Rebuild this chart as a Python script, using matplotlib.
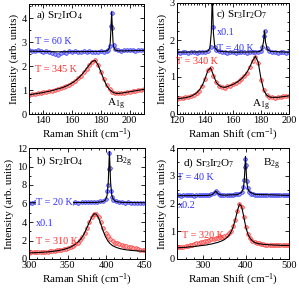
import matplotlib
matplotlib.use("Agg")
from matplotlib import pyplot as plt
from matplotlib.ticker import MultipleLocator

plt.rcParams['font.family'] = 'Liberation Serif'
plt.rcParams['mathtext.fontset'] = 'custom'
plt.rcParams['mathtext.rm'] = 'Liberation Serif'
plt.rcParams['mathtext.it'] = 'Liberation Serif:italic'
plt.rcParams['font.size'] = 8

BLUE = '#2f2fff'
RED = '#ff2f2f'
FS = 7.3  # annotation font size

# ---- a) Sr2IrO4, A1g ----
a_x = [130, 132, 134, 136, 138, 140, 142, 144, 146, 148, 150, 152, 154, 156, 158, 160, 162, 164, 166, 168,
       170, 172, 174, 176, 178, 180, 182, 184, 186, 188, 190, 192, 194, 196, 198, 200, 202, 204, 206, 208, 210]
a_red = [0.79, 0.83, 0.84, 0.87, 0.89, 0.92, 0.92, 0.97, 0.98, 1.02, 1.04, 1.10, 1.12, 1.18, 1.23, 1.31, 1.37, 1.49, 1.59, 1.76,
         1.88, 2.06, 2.18, 2.24, 2.04, 1.76, 1.47, 1.20, 1.03, 0.92, 0.87, 0.86, 0.89, 0.88, 0.93, 0.94, 0.98, 0.97, 1.01, 1.02, 1.04]
a_red_fit = [0.80, 0.82, 0.84, 0.86, 0.88, 0.90, 0.93, 0.95, 0.98, 1.01, 1.05, 1.08, 1.12, 1.17, 1.23, 1.30, 1.38, 1.48, 1.60, 1.74,
             1.90, 2.06, 2.20, 2.24, 2.06, 1.76, 1.45, 1.19, 1.02, 0.92, 0.87, 0.86, 0.87, 0.89, 0.91, 0.93, 0.95, 0.97, 0.99, 1.01, 1.03]
a_blue_x = [130, 132, 134, 136, 138, 140, 142, 144, 146, 148, 150, 152, 154, 156, 158, 160, 162, 164, 166, 168,
            170, 172, 174, 176, 178, 180, 182, 184, 185, 186, 187, 187.5, 188, 189, 190, 192, 194, 196, 198, 200,
            202, 204, 206, 208, 210]
a_blue = [2.66, 2.64, 2.62, 2.68, 2.63, 2.60, 2.62, 2.58, 2.55, 2.50, 2.47, 2.55, 2.60, 2.57, 2.62, 2.60, 2.63, 2.59, 2.61, 2.64,
          2.60, 2.62, 2.58, 2.60, 2.61, 2.62, 2.60, 2.63, 2.66, 2.85, 3.70, 4.22, 3.60, 2.90, 2.70, 2.66, 2.64, 2.66, 2.67, 2.66,
          2.68, 2.65, 2.67, 2.68, 2.66]
a_blue_fit_x = [130, 150, 170, 182, 184, 185, 186, 186.5, 187, 187.5, 188, 188.5, 189, 190, 192, 196, 210]
a_blue_fit = [2.63, 2.60, 2.61, 2.62, 2.64, 2.67, 2.78, 2.98, 3.55, 4.28, 3.55, 2.98, 2.78, 2.68, 2.64, 2.64, 2.66]

# ---- c) Sr3Ir2O7, A1g ----
c_x = [120, 122, 124, 126, 128, 130, 132, 134, 136, 138, 140, 142, 144, 146, 148, 150, 152, 154, 156, 158,
       160, 162, 164, 166, 168, 170, 172, 174, 176, 178, 180, 182, 184, 186, 188, 190, 192, 194, 196, 198, 200]
c_red = [0.40, 0.43, 0.42, 0.46, 0.45, 0.50, 0.51, 0.58, 0.63, 0.77, 0.94, 1.19, 1.25, 1.03, 0.86, 0.75, 0.73, 0.71, 0.75, 0.76,
         0.81, 0.83, 0.90, 0.94, 1.04, 1.12, 1.28, 1.44, 1.55, 1.38, 0.93, 0.64, 0.51, 0.45, 0.45, 0.43, 0.46, 0.45, 0.49, 0.48, 0.50]
c_red_fit = [0.41, 0.42, 0.43, 0.44, 0.46, 0.48, 0.52, 0.57, 0.65, 0.77, 0.95, 1.17, 1.25, 1.05, 0.86, 0.77, 0.73, 0.72, 0.74, 0.77,
             0.80, 0.84, 0.89, 0.95, 1.03, 1.13, 1.27, 1.44, 1.56, 1.40, 0.95, 0.64, 0.51, 0.46, 0.45, 0.45, 0.45, 0.46, 0.47, 0.48, 0.49]
c_blue_x = [120, 122, 124, 126, 128, 130, 132, 134, 136, 138, 140, 142, 144, 145, 146, 147, 148, 150, 152, 154,
            156, 158, 160, 162, 164, 166, 168, 170, 172, 174, 176, 178, 180, 181, 182, 183, 184, 186, 188, 190,
            192, 194, 196, 198, 200]
c_blue = [1.67, 1.66, 1.68, 1.67, 1.66, 1.67, 1.68, 1.66, 1.67, 1.68, 1.68, 1.70, 1.80, 3.10, 2.35, 1.82, 1.72, 1.69, 1.67, 1.68,
          1.66, 1.67, 1.68, 1.66, 1.67, 1.68, 1.67, 1.66, 1.68, 1.67, 1.67, 1.68, 1.71, 1.80, 2.10, 2.24, 1.78, 1.70, 1.68, 1.67,
          1.66, 1.67, 1.68, 1.66, 1.67]
c_blue_fit_x = [120, 140, 142, 143.5, 144.5, 145.2, 146, 147, 149, 160, 178, 180.5, 181.8, 182.5, 183.2, 184.5, 187, 200]
c_blue_fit = [1.67, 1.68, 1.70, 1.78, 2.20, 3.20, 2.20, 1.80, 1.70, 1.67, 1.68, 1.72, 1.95, 2.25, 1.95, 1.74, 1.69, 1.67]

# ---- b) Sr2IrO4, B2g ----
b_x = [300, 303, 306, 309, 312, 315, 318, 321, 324, 327, 330, 333, 336, 339, 342, 345, 348, 351, 354, 357,
       360, 363, 366, 369, 372, 375, 378, 381, 384, 387, 390, 393, 396, 399, 402, 405, 408, 411, 414, 417,
       420, 423, 426, 429, 432, 435, 438, 441, 444, 447, 450]
b_red = [0.70, 0.72, 0.71, 0.74, 0.75, 0.76, 0.78, 0.79, 0.81, 0.83, 0.85, 0.88, 0.92, 0.96, 1.00, 1.06, 1.12, 1.20, 1.30, 1.42,
         1.58, 1.78, 2.05, 2.40, 2.85, 3.40, 3.95, 4.50, 4.85, 4.90, 4.55, 3.95, 3.35, 2.85, 2.45, 2.15, 1.92, 1.78, 1.68, 1.60,
         1.52, 1.45, 1.40, 1.33, 1.28, 1.22, 1.15, 1.08, 1.02, 0.97, 0.92]
b_red_fit = [0.66, 0.67, 0.68, 0.69, 0.70, 0.72, 0.73, 0.75, 0.77, 0.79, 0.82, 0.85, 0.89, 0.93, 0.98, 1.04, 1.11, 1.19, 1.30, 1.43,
             1.59, 1.80, 2.06, 2.40, 2.85, 3.40, 3.98, 4.52, 4.88, 4.85, 4.45, 3.75, 3.00, 2.40, 1.95, 1.65, 1.45, 1.32, 1.22, 1.14,
             1.08, 1.03, 0.99, 0.96, 0.93, 0.91, 0.89, 0.87, 0.86, 0.85, 0.84]
b_blue_x = [300, 304, 308, 312, 316, 320, 324, 328, 332, 336, 340, 344, 348, 352, 356, 360, 364, 368, 372, 376,
            380, 384, 388, 392, 396, 399, 401, 402, 403, 404, 405, 406, 407, 409, 412, 416, 420, 424, 428, 432,
            436, 440, 444, 448]
b_blue = [6.10, 6.08, 6.12, 6.09, 6.10, 6.11, 6.08, 6.10, 6.12, 6.09, 6.10, 6.08, 6.11, 6.10, 6.09, 6.12, 6.10, 6.11, 6.12, 6.13,
          6.14, 6.15, 6.17, 6.22, 6.30, 6.45, 7.30, 8.00, 9.70, 11.50, 9.80, 7.40, 6.70, 6.40, 6.22, 6.15, 6.12, 6.10, 6.11, 6.09,
          6.10, 6.09, 6.10, 6.08]
b_blue_fit_x = [300, 388, 396, 399, 401, 402.5, 403.5, 404, 404.5, 405.5, 407, 409, 412, 420, 450]
b_blue_fit = [6.08, 6.12, 6.22, 6.40, 6.90, 8.30, 10.50, 11.60, 10.50, 8.30, 6.90, 6.45, 6.22, 6.12, 6.08]

# ---- d) Sr3Ir2O7, B2g ----
d_x = [240, 245, 250, 255, 260, 265, 270, 275, 280, 285, 290, 295, 300, 305, 310, 315, 320, 325, 330, 335,
       340, 345, 350, 355, 360, 365, 370, 375, 380, 385, 390, 395, 400, 405, 410, 415, 420, 425, 430, 435,
       440, 445, 450, 455, 460, 465, 470, 475, 480, 485, 490, 495, 500]
d_red = [0.42, 0.43, 0.44, 0.45, 0.46, 0.48, 0.49, 0.51, 0.53, 0.56, 0.58, 0.60, 0.62, 0.64, 0.66, 0.69, 0.71, 0.73, 0.76, 0.77,
         0.79, 0.80, 0.83, 0.86, 0.92, 1.02, 1.18, 1.42, 1.72, 1.97, 1.88, 1.52, 1.15, 0.90, 0.76, 0.66, 0.61, 0.58, 0.56, 0.55,
         0.54, 0.52, 0.52, 0.51, 0.51, 0.50, 0.50, 0.49, 0.50, 0.49, 0.50, 0.49, 0.50]
d_red_fit = [0.40, 0.41, 0.41, 0.42, 0.42, 0.43, 0.44, 0.44, 0.45, 0.46, 0.47, 0.48, 0.49, 0.50, 0.51, 0.53, 0.54, 0.56, 0.58, 0.60,
             0.63, 0.66, 0.70, 0.76, 0.84, 0.96, 1.14, 1.40, 1.72, 1.98, 1.90, 1.52, 1.13, 0.88, 0.74, 0.65, 0.60, 0.57, 0.55, 0.54,
             0.53, 0.52, 0.52, 0.51, 0.51, 0.50, 0.50, 0.50, 0.49, 0.49, 0.49, 0.49, 0.49]
d_blue_x = [240, 245, 250, 255, 260, 265, 270, 275, 280, 285, 290, 295, 300, 305, 310, 315, 320, 325, 330, 335,
            340, 345, 350, 355, 360, 365, 370, 375, 380, 385, 390, 394, 396, 398, 399, 400, 402, 404, 408, 412,
            416, 420, 425, 430, 435, 440, 445, 450, 455, 460, 465, 470, 475, 480, 485, 490, 495, 500]
d_blue = [2.29, 2.30, 2.28, 2.30, 2.29, 2.31, 2.29, 2.30, 2.28, 2.30, 2.29, 2.30, 2.31, 2.29, 2.30, 2.31, 2.33, 2.38, 2.45, 2.37,
          2.32, 2.30, 2.31, 2.30, 2.31, 2.32, 2.31, 2.33, 2.33, 2.36, 2.42, 2.58, 2.85, 3.30, 3.62, 3.40, 2.80, 2.56, 2.42, 2.36,
          2.34, 2.32, 2.31, 2.30, 2.31, 2.29, 2.30, 2.30, 2.29, 2.31, 2.30, 2.29, 2.30, 2.29, 2.30, 2.29, 2.30, 2.29]
d_blue_fit_x = [240, 310, 320, 325, 330, 335, 340, 350, 380, 390, 394, 396, 397.5, 399, 400.5, 402, 404, 408, 420, 500]
d_blue_fit = [2.28, 2.29, 2.31, 2.36, 2.45, 2.36, 2.31, 2.30, 2.32, 2.40, 2.55, 2.80, 3.20, 3.70, 3.20, 2.80, 2.55, 2.42, 2.33, 2.29]

W, H = 299, 289
fig = plt.figure(figsize=(W / 100, H / 100), dpi=100)


def make_ax(x0, y0, x1, y1):
    # pixel box (left, top, right, bottom) -> figure fraction
    return fig.add_axes([x0 / W, 1 - y1 / H, (x1 - x0) / W, (y1 - y0) / H])


def style(ax, xlim, ylim, xmaj, xmin, ymaj, ymin):
    ax.set_xlim(*xlim)
    ax.set_ylim(*ylim)
    ax.xaxis.set_major_locator(MultipleLocator(xmaj))
    ax.xaxis.set_minor_locator(MultipleLocator(xmin))
    ax.yaxis.set_major_locator(MultipleLocator(ymaj))
    ax.yaxis.set_minor_locator(MultipleLocator(ymin))
    ax.tick_params(which='both', direction='in', top=True, right=True, labelsize=7.5, pad=1.5, width=0.6)
    ax.tick_params(which='major', length=3)
    ax.tick_params(which='minor', length=1.5)
    for s in ax.spines.values():
        s.set_linewidth(0.7)
    ax.set_xlabel('Raman Shift (cm$^{-1}$)', fontsize=8, labelpad=1)
    ax.set_ylabel('Intensity (arb. units)', fontsize=8, labelpad=2)


def spectrum(ax, x, y, xf, yf, color, face):
    ax.plot(x, y, 'o', ms=2.6, mfc=face, mec=color, mew=0.5, zorder=2)
    ax.plot(xf, yf, '-', color='black', lw=0.8, zorder=3)


ax_a = make_ax(29, 4, 144, 114)
ax_c = make_ax(177, 3, 289, 114)
ax_b = make_ax(29, 148, 145, 259)
ax_d = make_ax(177, 148, 289, 259)

# a
spectrum(ax_a, a_x, a_red, a_x, a_red_fit, RED, '#ffb0b0')
spectrum(ax_a, a_blue_x, a_blue, a_blue_fit_x, a_blue_fit, BLUE, '#a0a0ff')
style(ax_a, (130, 210), (0, 4.6), 20, 2, 1, 0.5)
ax_a.text(0.06, 0.9, r'a) Sr$_2$IrO$_4$', transform=ax_a.transAxes, fontsize=8, va='center')
ax_a.text(134, 3.05, 'T = 60 K', color=BLUE, fontsize=FS, va='center')
ax_a.text(134, 1.84, 'T = 345 K', color=RED, fontsize=FS, va='center')
ax_a.text(184, 0.08, r'A$_{\rm 1g}$', fontsize=8, va='bottom')

# c
spectrum(ax_c, c_x, c_red, c_x, c_red_fit, RED, '#ffb0b0')
spectrum(ax_c, c_blue_x, c_blue, c_blue_fit_x, c_blue_fit, BLUE, '#a0a0ff')
style(ax_c, (120, 200), (0, 3), 20, 2, 1, 0.25)
ax_c.text(0.35, 0.9, r'c) Sr$_3$Ir$_2$O$_7$', transform=ax_c.transAxes, fontsize=8, va='center')
ax_c.text(148.5, 2.2, 'x0.1', color=BLUE, fontsize=FS, va='center')
ax_c.text(148.5, 1.78, 'T = 40 K', color=BLUE, fontsize=FS, va='center')
ax_c.text(119.5, 1.41, 'T = 340 K', color=RED, fontsize=FS, va='center')
ax_c.text(173.5, 0.02, r'A$_{\rm 1g}$', fontsize=8, va='bottom')

# b
spectrum(ax_b, b_x, b_red, b_x, b_red_fit, RED, '#ffb0b0')
spectrum(ax_b, b_blue_x, b_blue, b_blue_fit_x, b_blue_fit, BLUE, '#a0a0ff')
style(ax_b, (300, 450), (0, 12), 50, 10, 2, 1)
ax_b.text(0.06, 0.88, r'b) Sr$_2$IrO$_4$', transform=ax_b.transAxes, fontsize=8, va='center')
ax_b.text(411, 10.5, r'B$_{\rm 2g}$', fontsize=8, va='center')
ax_b.text(309, 6.1, 'T = 20 K', color=BLUE, fontsize=FS, va='center',
          bbox=dict(facecolor='white', edgecolor='none', pad=0.3))
ax_b.text(309, 3.8, 'x0.1', color=BLUE, fontsize=FS, va='center')
ax_b.text(309, 1.9, 'T = 310 K', color=RED, fontsize=FS, va='center')

# d
spectrum(ax_d, d_x, d_red, d_x, d_red_fit, RED, '#ffb0b0')
spectrum(ax_d, d_blue_x, d_blue, d_blue_fit_x, d_blue_fit, BLUE, '#a0a0ff')
style(ax_d, (240, 500), (0, 4), 100, 20, 1, 0.5)
ax_d.text(0.05, 0.86, r'd) Sr$_3$Ir$_2$O$_7$', transform=ax_d.transAxes, fontsize=8, va='center')
ax_d.text(440, 3.42, r'B$_{\rm 2g}$', fontsize=8, va='center')
ax_d.text(241, 2.94, 'T = 40 K', color=BLUE, fontsize=FS, va='center')
ax_d.text(241, 1.91, 'x0.2', color=BLUE, fontsize=FS, va='center')
ax_d.text(252, 0.86, 'T = 320 K', color=RED, fontsize=FS, va='center')

fig.savefig('out.png', dpi=100)
